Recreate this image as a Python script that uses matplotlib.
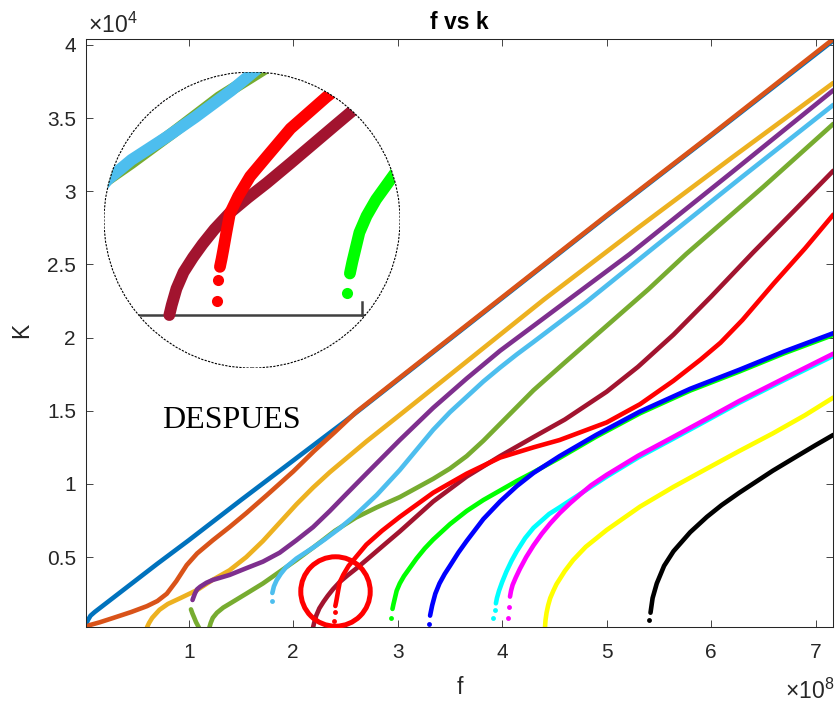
import matplotlib
matplotlib.use("Agg")
import matplotlib.pyplot as plt
from matplotlib.patches import Circle

plt.rcParams['font.family'] = ['Liberation Sans', 'DejaVu Sans']
plt.rcParams['mathtext.fontset'] = 'custom'
plt.rcParams['mathtext.rm'] = 'Liberation Sans'
plt.rcParams['mathtext.default'] = 'regular'

# STEP 1: curves (f in units of 1e8, k in units of 1e4)
f_blue1 = [0.013, 0.02, 0.035, 0.06, 0.1, 0.2, 0.4, 0.7, 1.0, 1.5, 2.0, 2.5, 3.0, 4.0, 5.0, 6.0, 7.17]
k_blue1 = [0.02, 0.045, 0.07, 0.10, 0.125, 0.18, 0.29, 0.455, 0.615, 0.89, 1.16, 1.43, 1.71, 2.27, 2.83, 3.38, 4.03]

f_orange = [0.013, 0.05, 0.15, 0.28, 0.45, 0.6, 0.7, 0.79, 0.88, 0.98, 1.08, 1.23, 1.39, 1.55, 1.75, 2.0, 2.2, 2.4, 2.6, 3.0, 4.0, 5.0, 6.0, 7.17]
k_orange = [0.02, 0.035, 0.055, 0.085, 0.125, 0.165, 0.20, 0.25, 0.335, 0.445, 0.525, 0.615, 0.705, 0.80, 0.925, 1.085, 1.225, 1.355, 1.49, 1.715, 2.275, 2.835, 3.385, 4.04]

f_gold = [0.6, 0.62, 0.65, 0.72, 0.8, 0.92, 1.08, 1.23, 1.39, 1.55, 1.71, 1.87, 2.03, 2.19, 2.35, 2.5, 2.7, 3.0, 3.5, 4.4, 5.3, 6.2, 7.17]
k_gold = [0.02, 0.05, 0.085, 0.14, 0.18, 0.22, 0.275, 0.345, 0.41, 0.50, 0.61, 0.735, 0.86, 0.975, 1.08, 1.17, 1.29, 1.46, 1.745, 2.26, 2.75, 3.23, 3.74]

f_purple = [1.036, 1.045, 1.06, 1.08, 1.11, 1.17, 1.23, 1.39, 1.55, 1.71, 1.87, 2.03, 2.19, 2.35, 2.5, 2.7, 3.02, 3.34, 3.66, 3.98, 4.3, 4.6, 5.22, 6.2, 7.17]
k_purple = [0.207, 0.225, 0.253, 0.28, 0.298, 0.325, 0.344, 0.378, 0.424, 0.469, 0.53, 0.615, 0.705, 0.815, 0.925, 1.07, 1.30, 1.52, 1.72, 1.91, 2.08, 2.24, 2.57, 3.13, 3.69]

f_olive_back = [1.021, 1.035, 1.05, 1.07, 1.085, 1.10]
k_olive_back = [0.143, 0.115, 0.09, 0.055, 0.035, 0.014]
f_olive = [1.196, 1.21, 1.23, 1.27, 1.33, 1.4, 1.55, 1.71, 1.87, 2.03, 2.2, 2.4, 2.6, 2.8, 3.02, 3.34, 3.5, 3.66, 3.82, 3.98, 4.3, 4.6, 5.0, 5.4, 5.76, 6.5, 7.17]
k_olive = [0.015, 0.05, 0.085, 0.12, 0.155, 0.185, 0.25, 0.32, 0.40, 0.48, 0.57, 0.68, 0.77, 0.84, 0.91, 1.035, 1.105, 1.19, 1.295, 1.41, 1.64, 1.83, 2.08, 2.33, 2.57, 3.03, 3.46]

f_sky = [1.80, 1.815, 1.84, 1.88, 1.93, 2.03, 2.18, 2.3, 2.45, 2.6, 2.8, 3.02, 3.34, 3.5, 3.66, 3.82, 3.98, 4.14, 4.3, 4.8, 5.46, 6.3, 7.17]
k_sky = [0.255, 0.30, 0.34, 0.385, 0.43, 0.49, 0.56, 0.62, 0.70, 0.79, 0.925, 1.095, 1.37, 1.49, 1.595, 1.70, 1.795, 1.885, 1.97, 2.24, 2.62, 3.1, 3.59]
f_sky_dots = [1.793]
k_sky_dots = [0.20]

f_wine = [2.19, 2.2, 2.22, 2.25, 2.29, 2.33, 2.38, 2.445, 2.52, 2.6, 2.7, 2.88, 3.02, 3.34, 3.66, 3.98, 4.3, 4.6, 5.0, 5.3, 5.64, 6.0, 6.4, 6.8, 7.17]
k_wine = [0.02, 0.05, 0.10, 0.15, 0.195, 0.235, 0.28, 0.33, 0.375, 0.42, 0.48, 0.59, 0.675, 0.88, 1.05, 1.19, 1.32, 1.44, 1.63, 1.80, 2.02, 2.28, 2.58, 2.87, 3.14]

f_red = [2.403, 2.41, 2.417, 2.43, 2.445, 2.48, 2.53, 2.6, 2.7, 2.85, 3.02, 3.34, 3.66, 3.98, 4.3, 4.55, 5.0, 5.32, 5.64, 5.9, 6.09, 6.3, 6.6, 6.9, 7.17]
k_red = [0.166, 0.19, 0.217, 0.27, 0.328, 0.38, 0.44, 0.50, 0.585, 0.68, 0.775, 0.94, 1.07, 1.18, 1.25, 1.30, 1.42, 1.545, 1.705, 1.85, 1.965, 2.12, 2.37, 2.61, 2.84]
f_red_dots = [2.392, 2.396]
k_red_dots = [0.062, 0.126]

f_green = [2.95, 2.96, 2.97, 2.99, 3.02, 3.06, 3.13, 3.18, 3.26, 3.34, 3.5, 3.66, 3.82, 3.98, 4.14, 4.3, 4.55, 4.9, 5.32, 5.8, 6.27, 6.7, 7.17]
k_green = [0.146, 0.18, 0.21, 0.27, 0.32, 0.37, 0.44, 0.49, 0.56, 0.62, 0.725, 0.815, 0.89, 0.955, 1.02, 1.08, 1.178, 1.323, 1.483, 1.638, 1.768, 1.893, 2.018]
f_green_dots = [2.937]
k_green_dots = [0.086]

f_blue = [3.31, 3.33, 3.36, 3.4, 3.45, 3.5, 3.58, 3.66, 3.82, 3.98, 4.14, 4.3, 4.55, 4.9, 5.32, 5.8, 6.27, 6.7, 7.17]
k_blue = [0.10, 0.17, 0.25, 0.32, 0.385, 0.44, 0.53, 0.61, 0.76, 0.88, 0.985, 1.075, 1.19, 1.335, 1.495, 1.65, 1.78, 1.905, 2.03]
f_blue_dots = [3.30]
k_blue_dots = [0.04]

f_cyan = [3.94, 3.95, 3.97, 4.0, 4.04, 4.09, 4.14, 4.22, 4.3, 4.45, 4.55, 4.7, 4.85, 5.0, 5.3, 5.64, 5.95, 6.27, 6.7, 7.17]
k_cyan = [0.184, 0.22, 0.27, 0.33, 0.40, 0.475, 0.54, 0.63, 0.70, 0.795, 0.84, 0.91, 0.98, 1.05, 1.18, 1.31, 1.43, 1.555, 1.71, 1.875]
f_cyan_dots = [3.914, 3.93]
k_cyan_dots = [0.086, 0.14]

f_magenta = [4.075, 4.085, 4.1, 4.13, 4.17, 4.23, 4.3, 4.38, 4.46, 4.55, 4.65, 4.75, 4.85, 5.0, 5.3, 5.64, 5.95, 6.27, 6.7, 7.17]
k_magenta = [0.23, 0.27, 0.31, 0.36, 0.42, 0.50, 0.58, 0.66, 0.73, 0.80, 0.868, 0.93, 0.99, 1.062, 1.192, 1.322, 1.442, 1.567, 1.722, 1.89]
f_magenta_dots = [4.06, 4.067]
k_magenta_dots = [0.086, 0.157]

f_yellow = [4.41, 4.415, 4.425, 4.44, 4.46, 4.49, 4.52, 4.56, 4.6, 4.68, 4.8, 5.0, 5.32, 5.64, 5.96, 6.27, 6.59, 6.9, 7.17]
k_yellow = [0.02, 0.07, 0.12, 0.17, 0.22, 0.27, 0.315, 0.36, 0.405, 0.48, 0.57, 0.685, 0.845, 0.98, 1.105, 1.225, 1.345, 1.47, 1.59]

f_black = [5.42, 5.44, 5.48, 5.55, 5.64, 5.8, 5.96, 6.1, 6.27, 6.43, 6.59, 6.8, 7.0, 7.17]
k_black = [0.12, 0.22, 0.32, 0.44, 0.54, 0.67, 0.775, 0.855, 0.94, 1.015, 1.09, 1.18, 1.265, 1.335]
f_black_dots = [5.41]
k_black_dots = [0.07]

x_ticks = [1, 2, 3, 4, 5, 6, 7]
y_ticks = [0.5, 1, 1.5, 2, 2.5, 3, 3.5, 4]
y_tick_labels = ['0.5', '1', '1.5', '2', '2.5', '3', '3.5', '4']

# highlighted spot (red ring) and zoom window of the magnifier
spot_f, spot_k = 2.404, 0.27
zoom_f = (1.915, 3.161)
zoom_k = (-0.1405, 0.7565)
axis_tick_f = 3.0

# drawing order follows the original (later curves on top)
curves = [
    (f_blue1, k_blue1, '#0072BD'),
    (f_orange, k_orange, '#D95319'),
    (f_gold, k_gold, '#EDB120'),
    (f_purple, k_purple, '#7E2F8E'),
    (f_olive_back, k_olive_back, '#77AC30'),
    (f_olive, k_olive, '#77AC30'),
    (f_sky, k_sky, '#4DBEEE'),
    (f_wine, k_wine, '#A2142F'),
    (f_red, k_red, '#FF0000'),
    (f_green, k_green, '#00FF00'),
    (f_blue, k_blue, '#0000FF'),
    (f_cyan, k_cyan, '#00FFFF'),
    (f_magenta, k_magenta, '#FF00FF'),
    (f_yellow, k_yellow, '#FFFF00'),
    (f_black, k_black, '#000000'),
]
dots = [
    (f_sky_dots, k_sky_dots, '#4DBEEE'),
    (f_red_dots, k_red_dots, '#FF0000'),
    (f_green_dots, k_green_dots, '#00FF00'),
    (f_blue_dots, k_blue_dots, '#0000FF'),
    (f_cyan_dots, k_cyan_dots, '#00FFFF'),
    (f_magenta_dots, k_magenta_dots, '#FF00FF'),
    (f_black_dots, k_black_dots, '#000000'),
]


def draw_curves(ax, lw, ms, clip=None):
    arts = []
    for f, k, c in curves:
        arts += ax.plot(f, k, color=c, lw=lw, solid_capstyle='round', solid_joinstyle='round')
    for f, k, c in dots:
        arts += ax.plot(f, k, 'o', color=c, ms=ms, mew=0)
    if clip is not None:
        for a in arts:
            a.set_clip_path(clip)


# STEP 2: main axes
fig = plt.figure(figsize=(8.36, 7.03), dpi=100)
ax = fig.add_axes([0.1025, 0.1077, 0.8943, 0.8368])
draw_curves(ax, 3.3, 3.5)

ax.set_xlim(0.0134, 7.17)
ax.set_ylim(0.0205, 4.04)
ax.set_xticks(x_ticks)
ax.set_xticklabels([str(t) for t in x_ticks])
ax.set_yticks(y_ticks)
ax.set_yticklabels(y_tick_labels)
ax.tick_params(direction='in', length=5, width=0.6, top=True, right=True,
               labelsize=15, colors='#262626')
ax.tick_params(axis='x', pad=11)
ax.tick_params(axis='y', pad=7)
for s in ax.spines.values():
    s.set_color('#262626')
    s.set_linewidth(0.75)

ax.set_title('f vs k', fontsize=16.5, fontweight='bold', pad=7)
ax.set_xlabel('f', fontsize=16.5, color='#262626')
ax.xaxis.set_label_coords(0.5, -0.083)
ax.set_ylabel('K', fontsize=16.5, color='#262626')
ax.yaxis.set_label_coords(-0.07, 0.505)

fig.text(88 / 836, 1 - 33 / 703, r'$\times10^{4}$', fontsize=16.5, color='#262626',
         ha='left', va='baseline')
fig.text(834 / 836, 1 - 699 / 703, r'$\times10^{8}$', fontsize=16.5, color='#262626',
         ha='right', va='baseline')

# red ring around the crossing point
ax.plot([spot_f], [spot_k], 'o', ms=50, mfc='none', mec='#FF0000', mew=3.6, zorder=10)

fig.text(231.5 / 836, 1 - 428.3 / 703, 'DESPUES', fontsize=23, family='Liberation Serif',
         ha='center', va='baseline', color='black')

# STEP 3: round magnifier showing the crossing region
ax_in = fig.add_axes([0.1244, 0.4765, 0.3541, 0.4211])
ax_in.axis('off')
ax_in.set_xlim(*zoom_f)
ax_in.set_ylim(*zoom_k)
lens = Circle((0.5, 0.5), 0.5, transform=ax_in.transAxes, facecolor='white',
              edgecolor='none', zorder=0)
ax_in.add_patch(lens)
base = ax_in.plot([zoom_f[0], zoom_f[1]], [0.0205, 0.0205], color='#404040', lw=1.8, zorder=1)
tick = ax_in.plot([axis_tick_f, axis_tick_f], [0.0205, 0.06], color='#404040', lw=1.8, zorder=1)
base[0].set_clip_path(lens)
tick[0].set_clip_path(lens)
draw_curves(ax_in, 8.5, 8, clip=lens)
rim = Circle((0.5, 0.5), 0.5, transform=ax_in.transAxes, facecolor='none',
             edgecolor='black', lw=0.8, linestyle=(0, (2, 1.2)), zorder=20)
ax_in.add_patch(rim)

plt.savefig('out.png', dpi=100)
